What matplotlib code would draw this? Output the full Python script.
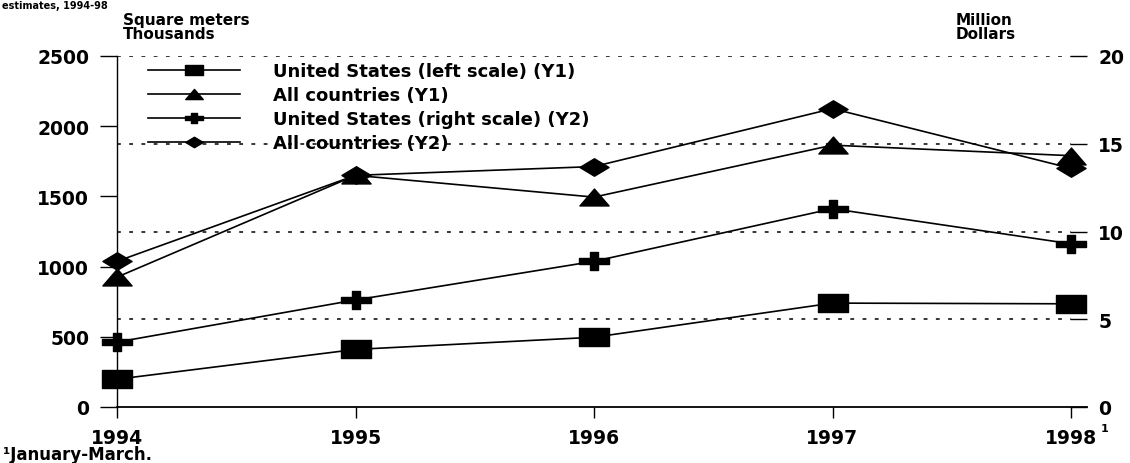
import numpy as np
import matplotlib
matplotlib.use("Agg")
import matplotlib.pyplot as plt
from matplotlib.path import Path

years = [1994, 1995, 1996, 1997, 1998]
year_labels = ["1994", "1995", "1996", "1997", "1998"]
us_sqm = [198, 410, 497, 740, 735]          # thousand m2, left scale
all_sqm = [925, 1650, 1495, 1865, 1790]     # thousand m2, left scale
us_usd = [3.7, 6.1, 8.3, 11.3, 9.3]         # million $, right scale
all_usd = [8.3, 13.2, 13.7, 17.0, 13.6]     # million $, right scale
left_ticks = [0, 500, 1000, 1500, 2000, 2500]
right_ticks = [0, 5, 10, 15, 20]
labels = ["United States (left scale) (Y1)", "All countries (Y1)",
          "United States (right scale) (Y2)", "All countries (Y2)"]

W, H = 1130, 464
fig = plt.figure(figsize=(W / 100, H / 100), dpi=100)
x0, x1, y0, y1 = 117, 1087, 408, 57
ax = fig.add_axes([x0 / W, 1 - y0 / H, (x1 - x0) / W, (y0 - y1) / H])
ax2 = ax.twinx()

px_per_year = (1071 - 117) / 4
ax.set_xlim(1994, 1998 + 16 / px_per_year)
ax.set_ylim(0, 2500)
ax2.set_ylim(0, 20)

FONT = "DejaVu Sans"

# markers (stretched horizontally like the reference)
sq = Path([(-1, -0.6), (1, -0.6), (1, 0.6), (-1, 0.6), (-1, -0.6)],
          [1, 2, 2, 2, 79])
tri = Path([(-1, -0.58), (1, -0.58), (0, 0.58), (-1, -0.58)], [1, 2, 2, 79])
dia = Path([(-1, 0), (0, 0.6), (1, 0), (0, -0.6), (-1, 0)], [1, 2, 2, 2, 79])
pv = [(-1, -0.22), (-0.3, -0.22), (-0.3, -0.62), (0.3, -0.62), (0.3, -0.22),
      (1, -0.22), (1, 0.22), (0.3, 0.22), (0.3, 0.62), (-0.3, 0.62),
      (-0.3, 0.22), (-1, 0.22), (-1, -0.22)]
plus = Path(pv, [1] + [2] * 11 + [79])

ms = 21
lw = 1.2
# dotted gridlines at right-scale ticks, expressed in left units
for v in right_ticks[1:]:
    ax.plot([1994, 1998], [v * 2500 / 20] * 2, color="black", lw=1.1,
            dashes=(2.5, 5.5), zorder=1)

h1, = ax.plot(years, us_sqm, color="black", lw=lw, marker=sq, ms=ms,
              mfc="black", mec="black", zorder=3, clip_on=False)
h2, = ax.plot(years, all_sqm, color="black", lw=lw, marker=tri, ms=ms,
              mfc="black", mec="black", zorder=3, clip_on=False)
h3, = ax2.plot(years, us_usd, color="black", lw=lw, marker=plus, ms=ms,
               mfc="black", mec="black", zorder=3, clip_on=False)
h4, = ax2.plot(years, all_usd, color="black", lw=lw, marker=dia, ms=ms,
               mfc="black", mec="black", zorder=3, clip_on=False)

for a in (ax, ax2):
    for s in a.spines.values():
        s.set_visible(False)
ax.spines["left"].set_visible(True)
ax.spines["bottom"].set_visible(True)
ax.spines["left"].set_linewidth(1.0)
ax.spines["bottom"].set_linewidth(1.3)
ax.spines["left"].set_bounds(0, 2500)
ax.spines["bottom"].set_bounds(1994, 1998 + 16 / px_per_year)

ax.set_xticks(years)
ax.set_xticklabels(year_labels)
ax.set_yticks(left_ticks)
ax.set_yticklabels([str(v) for v in left_ticks])
ax2.set_yticks(right_ticks)
ax2.set_yticklabels([str(v) for v in right_ticks])

ax.tick_params(axis="x", direction="out", length=8, width=1.0, pad=7,
               labelsize=13.5)
ax.tick_params(axis="y", direction="out", length=12, width=1.0, pad=8,
               labelsize=13.5)
ax2.tick_params(axis="y", direction="in", length=12, width=1.0, pad=8,
                labelsize=13.5)
for lab in ax.get_xticklabels() + ax.get_yticklabels() + ax2.get_yticklabels():
    lab.set_fontweight("bold")
    lab.set_family(FONT)

# superscript for 1998
fig.text(1101 / W, 1 - 424 / H, "1", ha="left", va="top", fontsize=8,
         fontweight="bold", family=FONT)

leg = fig.legend([h1, h2, h3, h4], labels, loc="upper left",
                 bbox_to_anchor=(148 / W, 1 - 63 / H), frameon=False,
                 markerscale=0.6, handlelength=5.1, handletextpad=1.8,
                 labelspacing=0.33, borderpad=0, borderaxespad=0,
                 prop={"family": FONT, "weight": "bold", "size": 13})

fig.text(123 / W, 1 - 13 / H, "Square meters\nThousands", ha="left",
         va="top", fontsize=11, fontweight="bold", family=FONT,
         linespacing=0.9)
fig.text(956 / W, 1 - 13 / H, "Million\nDollars", ha="left", va="top",
         fontsize=11, fontweight="bold", family=FONT, linespacing=0.9)
fig.text(2 / W, 1 - 1 / H, "estimates, 1994-98", ha="left", va="top",
         fontsize=7, fontweight="bold", family=FONT)
fig.text(3 / W, 1 - 455 / H, "\u00b9January-March.", ha="left",
         va="center", fontsize=12, fontweight="bold", family=FONT)

fig.savefig("out.png", dpi=100)
